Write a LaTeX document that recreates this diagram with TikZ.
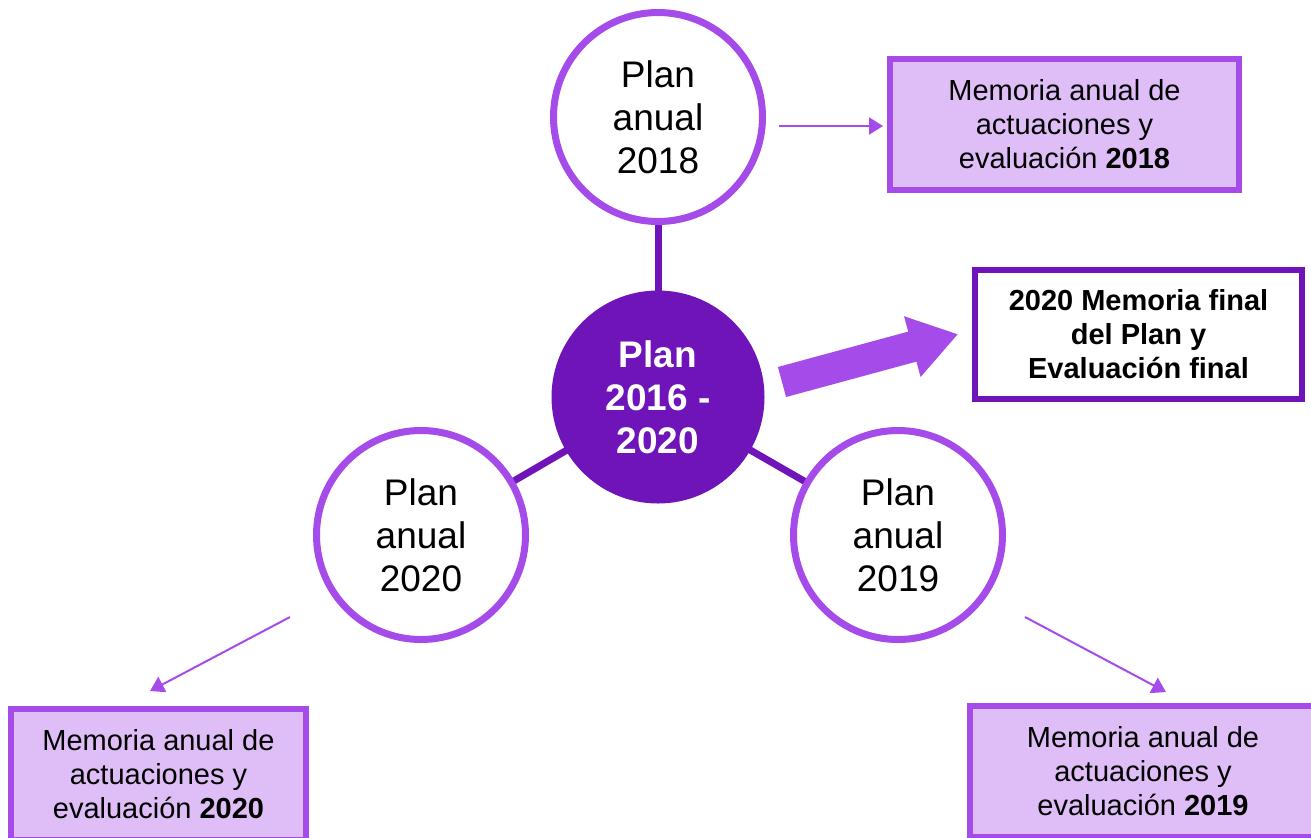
\documentclass[tikz,border=0pt]{standalone}
\usepackage{fontspec}
\setmainfont{Liberation Sans}
\usetikzlibrary{arrows.meta,backgrounds}
\definecolor{lpurple}{HTML}{A54BEA}
\definecolor{dpurple}{HTML}{6E14B8}
\definecolor{lav}{HTML}{DFBDF6}
\begin{document}
\begin{tikzpicture}[x=0.5pt,y=-0.5pt,
  plan/.style={circle, draw=lpurple, line width=3.5pt, fill=white, minimum size=104.5pt, inner sep=0pt, align=center, font=\fontsize{18.5}{21.5}\selectfont},
  hub/.style={circle, fill=dpurple, minimum size=106.5pt, inner sep=0pt, align=center, text=white, font=\fontsize{18.5}{21.5}\selectfont\bfseries},
  memo/.style={rectangle, draw=lpurple, fill=lav, line width=3pt, minimum width=174.5pt, minimum height=65.5pt, inner sep=0pt, align=center, font=\fontsize{14.5}{17}\selectfont},
  finalbox/.style={rectangle, draw=dpurple, fill=white, line width=3pt, minimum width=163.5pt, minimum height=64.5pt, inner sep=0pt, align=center, font=\fontsize{14.5}{17}\selectfont\bfseries},
  link/.style={draw=dpurple, line width=3.5pt},
  feed/.style={draw=lpurple, line width=1pt, -{Triangle[length=7pt,width=8.5pt]}},
  bigarrow/.style={fill=lpurple}
]
\useasboundingbox (0,0) rectangle (1311,837);

\node[hub] (hub) at (658,397) {Plan\\2016 -\\2020};
\node[plan] (p18) at (658,117) {Plan\\anual\\2018};
\node[plan] (p20) at (421,535) {Plan\\anual\\2020};
\node[plan] (p19) at (898,535) {Plan\\anual\\2019};

\begin{scope}[on background layer]
  \draw[link] (hub.center) -- (p18.center);
  \draw[link] (hub.center) -- (p20.center);
  \draw[link] (hub.center) -- (p19.center);
\end{scope}

\node[memo] (m18) at (1064.5,124.5) {Memoria anual de\\actuaciones y\\evaluación \textbf{2018}};
\node[finalbox] (fin) at (1138.5,334.5) {2020 Memoria final\\del Plan y\\Evaluación final};
\node[memo, minimum width=147.5pt] (m20) at (158.5,774.5) {Memoria anual de\\actuaciones y\\evaluación \textbf{2020}};
\node[memo, minimum width=173pt] (m19) at (1143,771.5) {Memoria anual de\\actuaciones y\\evaluación \textbf{2019}};

\fill[bigarrow] (777.9,367.0) -- (908.2,331.6) -- (904.0,316.2) -- (957.6,334.3) -- (920.6,377.0) -- (916.4,361.6) -- (786.1,397.0) -- cycle;

\coordinate (a18s) at (779,126);
\coordinate (a18e) at (883,126);
\coordinate (a20s) at (290,617);
\coordinate (a20e) at (150,691);
\coordinate (a19s) at (1025,617);
\coordinate (a19e) at (1166,692);
\draw[feed] (a18s) -- (a18e);
\draw[feed] (a20s) -- (a20e);
\draw[feed] (a19s) -- (a19e);
\end{tikzpicture}
\end{document}
